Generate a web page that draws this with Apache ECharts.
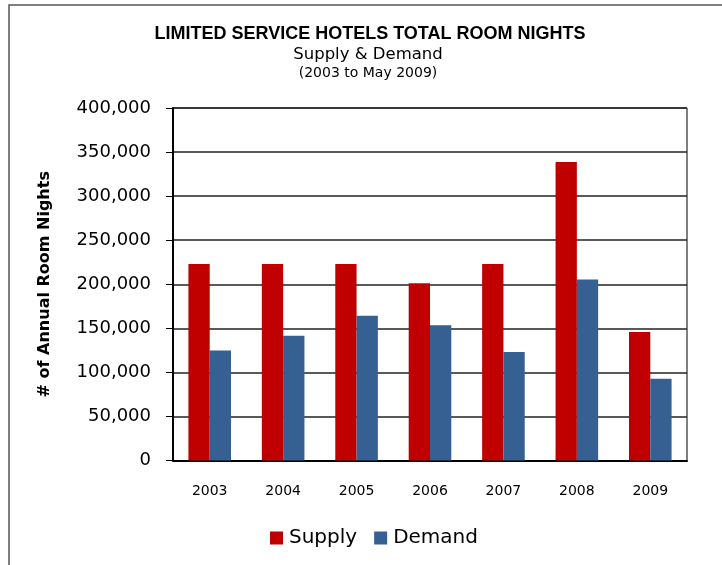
<!DOCTYPE html>
<html>
<head>
<meta charset="utf-8">
<script src="https://cdn.jsdelivr.net/npm/echarts@6/dist/echarts.min.js"></script>
<style>
    html, body { margin: 0; padding: 0; background: #fff; }
    #chart { width: 722px; height: 565px; }
</style>
</head>
<body>
<div id="chart"></div>
<script>
    const years = ['2003', '2004', '2005', '2006', '2007', '2008', '2009'];
    const supply = [223000, 223000, 223000, 201000, 223000, 338700, 145700];
    const demand = [124900, 141500, 164200, 153600, 123000, 205500, 92700];
    const seriesNames = ['Supply', 'Demand'];

    const font = 'DejaVu Sans';
    const myChart = echarts.init(document.getElementById('chart'));
    const chartOption = {
        backgroundColor: '#fff',
        animation: false,
        textStyle: { fontFamily: font, color: '#000' },
        graphic: [
            {
                type: 'rect',
                shape: { x: 9, y: 5, width: 760, height: 620 },
                style: { fill: 'none', stroke: '#555', lineWidth: 1.5 }
            },
            {
                type: 'text', x: 370, y: 34,
                style: { text: 'LIMITED SERVICE HOTELS TOTAL ROOM NIGHTS', font: 'bold 18px "Liberation Sans"', fill: '#000', align: 'center', verticalAlign: 'middle' }
            },
            {
                type: 'text', x: 368, y: 55,
                style: { text: 'Supply & Demand', font: '16.5px "DejaVu Sans"', fill: '#000', align: 'center', verticalAlign: 'middle' }
            },
            {
                type: 'text', x: 368, y: 73,
                style: { text: '(2003 to May 2009)', font: '14px "DejaVu Sans"', fill: '#000', align: 'center', verticalAlign: 'middle' }
            }
        ],
        legend: {
            data: seriesNames,
            bottom: 12,
            left: 265,
            icon: 'rect',
            itemWidth: 13,
            itemHeight: 13,
            itemGap: 17,
            textStyle: { fontSize: 20, fontFamily: font, color: '#000', padding: [0, 0, 0, 1] }
        },
        grid: {
            left: 173,
            right: 35,
            top: 108,
            bottom: 104.5,
            show: true,
            borderColor: '#000',
            borderWidth: 1
        },
        xAxis: {
            type: 'category',
            data: years,
            axisLine: { lineStyle: { color: '#000', width: 2 } },
            axisTick: { length: 6, lineStyle: { color: '#000', width: 1 } },
            axisLabel: { fontSize: 14, color: '#000', margin: 24 }
        },
        yAxis: {
            type: 'value',
            min: 0,
            max: 400000,
            interval: 50000,
            name: '# of Annual Room Nights',
            nameLocation: 'middle',
            nameGap: 120,
            nameTextStyle: { fontSize: 16, fontWeight: 'bold', color: '#000' },
            axisLine: { show: true, lineStyle: { color: '#000', width: 2 } },
            axisTick: { show: true, length: 7, lineStyle: { color: '#000' } },
            axisLabel: {
                fontSize: 18,
                color: '#000',
                margin: 22,
                formatter: v => v.toLocaleString('en-US')
            },
            splitLine: { lineStyle: { color: '#222', width: 1.5 } }
        },
        series: [
            {
                name: seriesNames[0],
                type: 'bar',
                data: supply,
                barWidth: '29%',
                barGap: '0%',
                itemStyle: { color: '#C00000' }
            },
            {
                name: seriesNames[1],
                type: 'bar',
                data: demand,
                barWidth: '29%',
                itemStyle: { color: '#376092' }
            }
        ]
    };
    myChart.setOption(chartOption);
</script>
</body>
</html>
